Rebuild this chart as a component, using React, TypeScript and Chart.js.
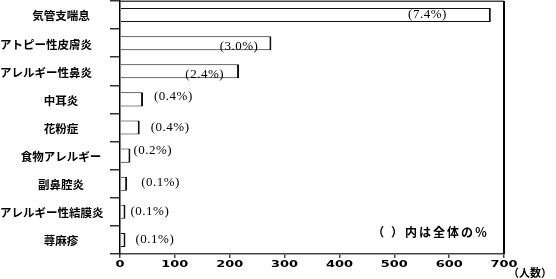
import React, { useEffect, useRef } from "react";
import { Chart, registerables } from "chart.js";

Chart.register(...registerables);

const categories = [
  "気管支喘息",
  "アトピー性皮膚炎",
  "アレルギー性鼻炎",
  "中耳炎",
  "花粉症",
  "食物アレルギー",
  "副鼻腔炎",
  "アレルギー性結膜炎",
  "蕁麻疹",
];
const patients = [676, 276, 217, 42, 36, 19, 13, 10, 10];
const percents = ["7.4", "3.0", "2.4", "0.4", "0.4", "0.2", "0.1", "0.1", "0.1"];
const xMin = 0;
const xMax = 700;
const xStep = 100;
const unitLabel = "（人数）";
const noteLabel = "（ ）内は全体の％";

// label placement style (px): negative = inside bar, right-aligned; positive = outside, left-aligned
const labelDx = [-44, -13, -15, 11, 11, 3, 14, 5, 10];
const labelDy = [0, 3, 3, -3, 0, -5, -1, 0, 0];

const CJK = '"Noto Sans CJK JP", "Noto Sans", sans-serif';

const overlay = {
  id: "overlay",
  afterDraw(chart: any) {
    const ctx = chart.ctx as CanvasRenderingContext2D;
    const a = chart.chartArea;
    ctx.save();
    // frame: top and right
    ctx.strokeStyle = "#444";
    ctx.lineWidth = 1.5;
    ctx.beginPath();
    ctx.moveTo(a.left, a.top + 0.25);
    ctx.lineTo(a.right, a.top + 0.25);
    ctx.stroke();
    ctx.strokeStyle = "#000";
    ctx.lineWidth = 2;
    ctx.beginPath();
    ctx.moveTo(a.right, a.top);
    ctx.lineTo(a.right, a.bottom);
    ctx.stroke();

    // category labels (centered in the label column, long ones flush left)
    const ys = chart.scales.y;
    ctx.fillStyle = "#000";
    ctx.font = `bold 11.5px ${CJK}`;
    ctx.textAlign = "left";
    ctx.textBaseline = "middle";
    categories.forEach((c, i) => {
      const w = ctx.measureText(c).width;
      const center = ys.left + 61;
      const x = w > 85 ? ys.left : center - w / 2;
      ctx.fillText(c, x, ys.getPixelForValue(i) + 1);
    });

    // percent labels
    const meta = chart.getDatasetMeta(0);
    ctx.font = '13px "Liberation Serif", "Times New Roman", serif';
    (ctx as any).letterSpacing = "0.5px";
    ctx.textBaseline = "middle";
    meta.data.forEach((el: any, i: number) => {
      const dx = labelDx[i];
      ctx.textAlign = dx < 0 ? "right" : "left";
      ctx.fillText(`(${percents[i]}%)`, el.x + dx, el.y + labelDy[i]);
    });
    (ctx as any).letterSpacing = "0px";

    // x tick labels (wide bold digits)
    const xs = chart.scales.x;
    ctx.font = 'bold 8.2px "DejaVu Sans", sans-serif';
    ctx.textAlign = "center";
    ctx.textBaseline = "alphabetic";
    xs.ticks.forEach((t: any) => {
      const px = xs.getPixelForValue(t.value);
      ctx.save();
      ctx.translate(px, a.bottom + 12.5);
      ctx.scale(1.58, 1);
      ctx.fillText(String(t.value), 0, 0);
      ctx.restore();
    });

    // unit label and note
    ctx.font = `bold 11px ${CJK}`;
    ctx.textAlign = "left";
    ctx.textBaseline = "middle";
    ctx.fillText(unitLabel, a.right + 4, a.bottom + 19);
    ctx.font = `bold 12px ${CJK}`;
    (ctx as any).letterSpacing = "2px";
    ctx.textAlign = "right";
    ctx.fillText(noteLabel, a.right - 15, a.bottom - 22);
    (ctx as any).letterSpacing = "0px";
    ctx.restore();
  },
};

export default function App() {
  const ref = useRef<HTMLCanvasElement | null>(null);
  useEffect(() => {
    document.body.style.margin = "0";
    if (!ref.current) return;
    const chart = new Chart(ref.current, {
      type: "bar",
      data: {
        labels: categories,
        datasets: [
          {
            data: patients,
            backgroundColor: "#fff",
            borderColor: "#111",
            borderWidth: { top: 1, right: 2, bottom: 1, left: 0 },
            categoryPercentage: 1,
            barPercentage: 0.5,
          },
        ],
      },
      options: {
        indexAxis: "y",
        animation: false,
        responsive: false,
        maintainAspectRatio: false,
        layout: { padding: { top: 1, right: 52, bottom: 0, left: 0 } },
        plugins: { legend: { display: false }, tooltip: { enabled: false } },
        scales: {
          x: {
            type: "linear",
            min: xMin,
            max: xMax,
            ticks: { stepSize: xStep, display: false },
            grid: { drawOnChartArea: false, drawTicks: true, tickLength: 4, color: "#444", lineWidth: 1.5 },
            border: { display: true, color: "#444", width: 1.5 },
            afterFit: (s: any) => {
              s.height = 25;
              s.paddingLeft = 0;
              s.paddingRight = 0;
            },
          },
          y: {
            type: "category",
            ticks: { display: false },
            grid: { offset: true, drawOnChartArea: false, drawTicks: true, tickLength: 10, color: "#333", lineWidth: 1.5 },
            border: { display: true, color: "#000", width: 1.5 },
            afterFit: (s: any) => {
              s.width = 120;
              s.paddingTop = 0;
              s.paddingBottom = 0;
            },
          },
        },
      },
      plugins: [overlay],
    } as any);
    return () => chart.destroy();
  }, []);
  return <canvas ref={ref} width={556} height={279} style={{ display: "block" }} />;
}
